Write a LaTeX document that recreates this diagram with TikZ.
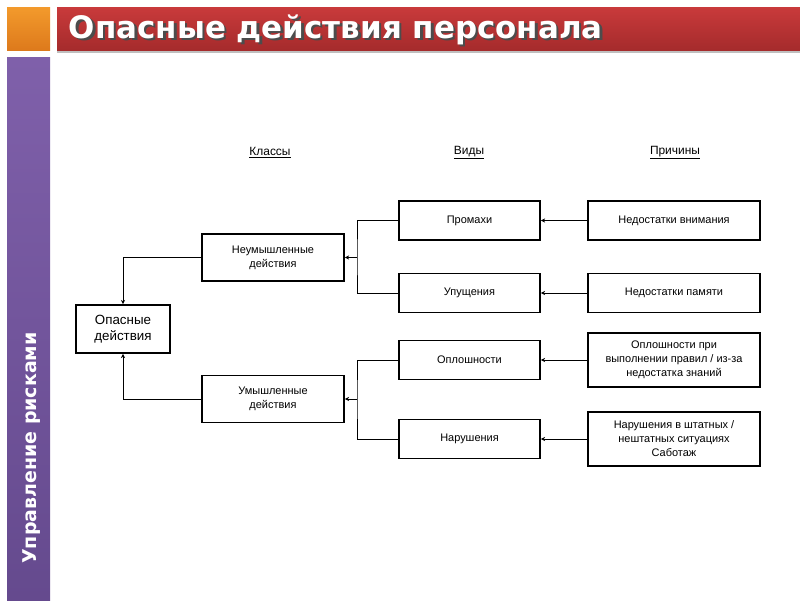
\documentclass[tikz,border=0pt]{standalone}
\usepackage{fontspec}
\setmainfont{Liberation Sans}
\newfontfamily\dejavu{DejaVu Sans}
\usetikzlibrary{arrows.meta}
\definecolor{barred}{HTML}{C93A3B}
\definecolor{barreddark}{HTML}{A52B2C}
\definecolor{barorange}{HTML}{F39A2C}
\definecolor{barorangedark}{HTML}{DD7A1C}
\definecolor{barpurple}{HTML}{7F60AA}
\definecolor{barpurpledark}{HTML}{654A8E}
\begin{document}
\begin{tikzpicture}[
    box/.style={draw, line width=1.3pt, align=center, inner sep=1pt, font=\fontsize{7.8}{10}\selectfont},
    classbox/.style={box, minimum width=3.55cm, minimum height=1.175cm},
    kindbox/.style={box, minimum width=3.525cm, minimum height=0.975cm},
    causebox/.style={box, minimum width=4.3cm, minimum height=0.975cm},
    head/.style={font=\fontsize{8.5}{10}\selectfont},
    link/.style={-{Stealth[length=3pt,width=3pt]}, line width=0.5pt}]
    \useasboundingbox (0,0) rectangle (20,-15);
    % side bars
    \shade[top color=barorange, bottom color=barorangedark] (0.175,-0.175) rectangle (1.25,-1.25);
    \fill[black!25] (1.425,-1.25) rectangle (20,-1.33);
    \shade[top color=barred, bottom color=barreddark] (1.425,-0.175) rectangle (20,-1.25);
    \shade[top color=barpurple, bottom color=barpurpledark] (0.175,-1.425) rectangle (1.25,-15);
    \node[anchor=west, text=black!70, font=\dejavu\bfseries\fontsize{22}{24}\selectfont] (titleshadow) at (1.66,-0.8) {Опасные действия персонала};
    \node[anchor=west, text=white, font=\dejavu\bfseries\fontsize{22}{24}\selectfont] (title) at (1.6,-0.74) {Опасные действия персонала};
    \node[rotate=90, text=white, font=\dejavu\bfseries\fontsize{13.5}{16}\selectfont] (side) at (0.8,-11.2) {Управление рисками};
    % headers
    \node[head] (hclass) at (6.75,-3.82) {\underline{Классы}};
    \node[head] (hkind) at (11.725,-3.82) {\underline{Виды}};
    \node[head] (hcause) at (16.875,-3.82) {\underline{Причины}};
    % boxes
    \node[box, minimum width=2.35cm, minimum height=1.2cm, font=\fontsize{9.5}{11}\selectfont] (opas) at (3.075,-8.225) {Опасные\\действия};
    \node[classbox] (neum) at (6.825,-6.4375) {Неумышленные\\действия};
    \node[classbox] (umys) at (6.825,-9.975) {Умышленные\\действия};
    \node[kindbox] (prom) at (11.7375,-5.5125) {Промахи};
    \node[kindbox] (upus) at (11.7375,-7.325) {Упущения};
    \node[kindbox] (oplo) at (11.7375,-9.0) {Оплошности};
    \node[kindbox] (naru) at (11.7375,-10.975) {Нарушения};
    \node[causebox] (vnim) at (16.85,-5.5125) {Недостатки внимания};
    \node[causebox] (pamy) at (16.85,-7.325) {Недостатки памяти};
    \node[causebox, minimum height=1.35cm] (oplp) at (16.85,-9.0) {Оплошности при\\выполнении правил / из-за\\недостатка знаний};
    \node[causebox, minimum height=1.35cm] (narp) at (16.85,-10.975) {Нарушения в штатных /\\нештатных ситуациях\\Саботаж};
    % links
    \coordinate (jtop) at (8.925,-6.4375);
    \coordinate (jbot) at (8.925,-9.975);
    \draw[link] (vnim) -- (prom);\draw[link] (pamy) -- (upus);
    \draw[link] (oplp) -- (oplo);\draw[link] (narp) -- (naru);
    \draw[line width=0.5pt] (prom.west) -| (jtop) |- (upus.west);
    \draw[line width=0.5pt] (oplo.west) -| (jbot) |- (naru.west);
    \draw[link] (jtop) -- (neum);\draw[link] (jbot) -- (umys);
    \draw[link] (neum.west) -| (opas.north);\draw[link] (umys.west) -| (opas.south);
\end{tikzpicture}
\end{document}
